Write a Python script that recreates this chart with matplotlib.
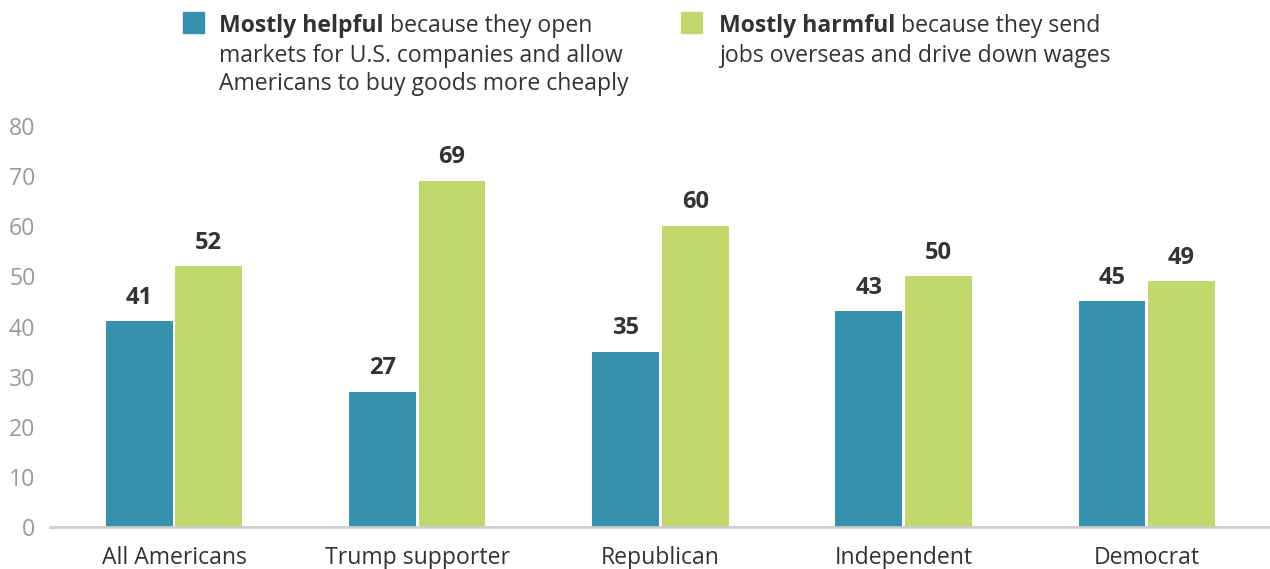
import matplotlib
matplotlib.use("Agg")
import matplotlib.pyplot as plt
import numpy as np

categories = ["All Americans", "Trump supporter", "Republican", "Independent", "Democrat"]
helpful = [41, 27, 35, 43, 45]
harmful = [52, 69, 60, 50, 49]
y_ticks = [0, 10, 20, 30, 40, 50, 60, 70, 80]

BLUE = "#3591AE"
GREEN = "#C2D86C"
DARK = "#333333"
GRAY = "#9a9a9a"
FS = 16.6

plt.rcParams["font.family"] = ["Open Sans", "DejaVu Sans"]

W, H = 1270, 569
fig = plt.figure(figsize=(W / 100, H / 100), dpi=100)

def fx(px):
    return px / W

def fy(py):
    return 1 - py / H

ax = fig.add_axes([fx(50), fy(527), fx(1270) - fx(50), fy(126) - fy(527)])

x = np.arange(len(categories))
bw = 0.275
off = 0.143
b1 = ax.bar(x - off, helpful, bw, color=BLUE, zorder=2)
b2 = ax.bar(x + off, harmful, bw, color=GREEN, zorder=2)

for bars, vals in ((b1, helpful), (b2, harmful)):
    for rect, v in zip(bars, vals):
        ax.annotate(str(v), (rect.get_x() + rect.get_width() / 2, v),
                    xytext=(0, 8.5), textcoords="offset points",
                    ha="center", va="bottom", fontsize=17, fontweight="bold",
                    color=DARK)

ax.set_xlim(-0.51, 4.507)
ax.set_ylim(0, 80)
ax.set_xticks(x)
ax.set_xticklabels(categories, fontsize=FS, color=DARK)
ax.set_yticks(y_ticks)
ax.set_yticklabels([str(t) for t in y_ticks], fontsize=FS, color=GRAY)
ax.tick_params(axis="both", length=0)
ax.tick_params(axis="x", pad=14)
ax.tick_params(axis="y", pad=0)
for lbl in ax.get_yticklabels():
    lbl.set_horizontalalignment("right")
    lbl.set_x(-0.012)

for s in ("top", "right", "left"):
    ax.spines[s].set_visible(False)
ax.spines["bottom"].set_color("#cccccc")
ax.spines["bottom"].set_linewidth(2)
ax.spines["bottom"].set_zorder(3)

# Legend drawn as figure-level patches and text
def legend_entry(sq_x, txt_x, color, bold, rest, more):
    fig.patches.append(plt.Rectangle((fx(sq_x), fy(33)), fx(21), fy(12) - fy(33),
                                     transform=fig.transFigure, color=color))
    t = fig.text(fx(txt_x), fy(32), bold, fontsize=FS, fontweight="bold",
                 color=DARK, va="baseline", ha="left")
    fig.texts.append(plt.Annotation(rest, xy=(1, 0), xycoords=t, va="bottom",
                                    ha="left", fontsize=FS, color=DARK))
    fig.texts[-1].set_figure(fig)
    for i, line in enumerate(more):
        fig.text(fx(txt_x), fy(61.5 + 28.5 * i), line, fontsize=FS,
                 color=DARK, va="baseline", ha="left")

legend_entry(183, 219, BLUE, "Mostly helpful", " because they open",
             ["markets for U.S. companies and allow",
              "Americans to buy goods more cheaply"])
legend_entry(681, 719, GREEN, "Mostly harmful", " because they send",
             ["jobs overseas and drive down wages"])

fig.savefig("out.png", dpi=100)
